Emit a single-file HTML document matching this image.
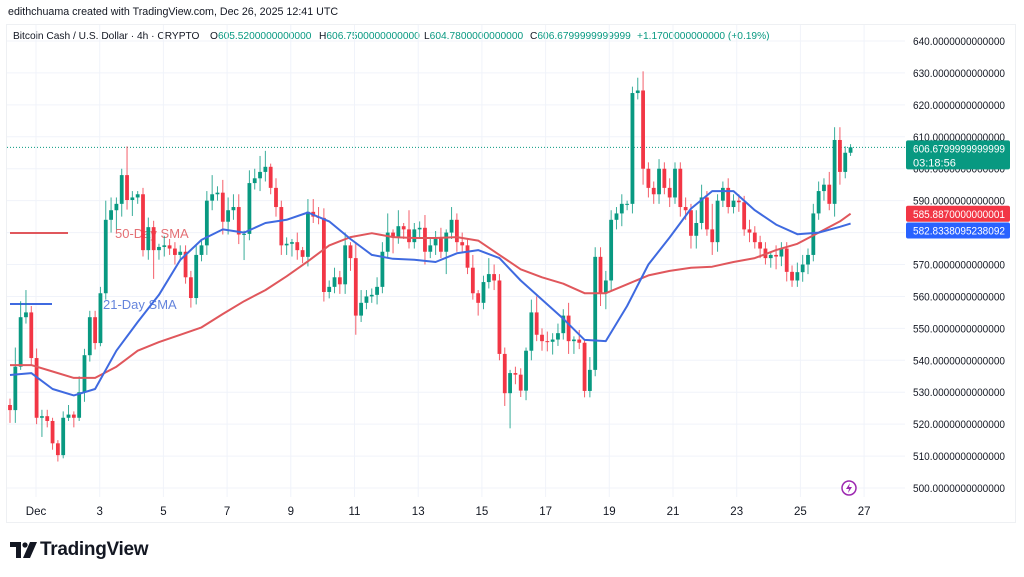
<!DOCTYPE html>
<html><head><meta charset="utf-8">
<style>
html,body{margin:0;padding:0;background:#fff;}
body{width:1024px;height:577px;overflow:hidden;position:relative;font-family:"Liberation Sans",sans-serif;}
.hdr{position:absolute;left:8px;top:6px;font-size:10.7px;color:#131722;}
.leg{position:absolute;top:31px;font-size:10.2px;color:#131722;white-space:nowrap;}
.leg .g{color:#089981;}
.frame{position:absolute;left:6px;top:24px;width:1010px;height:499px;border:1px solid #eef0f3;box-sizing:border-box;}
.logo{position:absolute;left:40px;top:539px;font-size:19px;font-weight:bold;color:#131722;letter-spacing:-0.3px;}
svg{position:absolute;left:0;top:0;}
</style></head><body>
<div class="hdr">edithchuama created with TradingView.com, Dec 26, 2025 12:41 UTC</div>
<div class="frame"></div>
<div class="leg" style="left:13px">Bitcoin Cash / U.S. Dollar · 4h · CRYPTO</div>
<div class="leg" style="left:210px">O<span class="g">605.5200000000000</span></div>
<div class="leg" style="left:319px">H<span class="g">606.7500000000000</span></div>
<div class="leg" style="left:424px">L<span class="g">604.7800000000000</span></div>
<div class="leg" style="left:530px">C<span class="g">606.6799999999999</span></div>
<div class="leg" style="left:637px"><span class="g">+1.1700000000000 (+0.19%)</span></div>
<svg id="chart" width="1024" height="577"></svg>
<svg width="28" height="18" style="left:10px;top:542px"><path d="M0 0H11V16H6V5H0Z" fill="#131722"/><circle cx="15" cy="3" r="2.6" fill="#131722"/><path d="M20 0H27L20 16H13Z" fill="#131722"/></svg>
<div class="logo">TradingView</div>
<script>
const firstOpen = 526;
const closes = [524.4,538,553.5,555,540.7,522,522.5,521,514,510.3,522,523,522,530,541.6,553.5,545.4,561,584,587,589,598,590.2,591,592,574.5,581.7,574.5,575.5,576,575,573,574,566,559.5,573,576,590,592,592.5,583.4,587,588,579.4,579.6,595.5,597,599,600.6,594,588,576,576.5,577,574.5,572.4,586.5,585,584.6,561.4,563,566,563.8,576,572,554,558,560,560.5,563,574,580,578.5,582,581,577,581,581.5,574,576,578.5,574,580,584,577,576,569,561,558,564.5,567,565,542,529.7,536,535.5,530.5,543,555,548,546,545.8,546.5,548.5,554,546,546.5,545.5,530.4,537,572.4,561,565,584,586,589,589,623.7,624.5,600,594,592,600,594,591,600,588,587,579,583,591,581,577,590,594,588,590,589.5,581,580,577,575,572,573,572.5,575,567.7,565,567.6,570,573,586,593,595,589,609,599,605,606.7];
const wickHi = [2,6,5,7,2,3,2,2,1,1,2,3,1,5,2,2,2,2,6,4,2,2,9,2,1,2,3,2,1,3,2,2,2,2,2,3,2,3,6,2,4,4,4,4,1,4,3,5,5,1,3,2,2,1,3,1,4,4,3,3,2,3,2,4,1,5,4,2,2,3,3,6,1,5,1,6,2,2,4,2,2,3,1,4,2,3,2,4,1,2,5,3,2,2,1,2,2,1,4,5,2,3,2,3,2,4,1,3,1,4,3,3,3,3,2,3,1,2,4,6,2,2,3,2,3,2,2,3,2,4,4,2,8,2,2,3,2,2,2,3,2,2,2,1,3,2,2,2,3,3,2,3,3,2,4,4,4,2,1];
const wickLo = [4,4,1,2,2,2,6,2,2,2,1,1,3,1,3,2,2,1,2,4,6,4,3,5,2,2,3,9,3,3,2,3,2,2,3,2,2,3,3,2,4,4,3,3,8,2,2,4,3,2,3,3,3,4,3,2,3,2,2,3,2,2,3,3,4,6,2,2,2,3,2,2,5,2,3,2,2,3,4,2,3,2,7,2,3,2,2,2,4,2,2,3,2,4,11,3,2,3,3,2,3,3,4,2,2,4,4,2,2,2,2,4,5,3,3,4,2,3,2,5,3,3,3,2,3,2,3,3,4,4,2,2,4,3,2,2,2,3,2,3,2,3,2,3,4,3,3,2,2,3,3,2,2,3,2,4,4,2,1];
const smaIdx = [0,4,8,12,16,20,24,28,32,36,40,44,48,52,56,60,64,68,72,76,80,84,88,92,96,100,104,108,112,116,120,124,128,132,136,140,144,148,152,156,158];
const sma21 = [535.4,536,531,529,531,543,552,560.5,571.4,577.7,581,580,583,584,586.3,583.5,578,573,571.8,571.5,570.8,573.5,574.5,572,565,559,553,546.4,546,557,570,578.5,587.5,593,593,587,582.5,579.5,580,581.8,582.8];
const sma50 = [538.5,538.5,536.5,534.5,534.5,538,543,545.7,548,550.3,554.5,558.5,562,566.3,571,576,578.6,579.8,578.6,578.3,578.3,578.6,577.5,573,568.5,566,564,561,561,563.8,566.6,568,569,569.3,570.8,572,574.5,576.5,580,583.5,585.9];
const priceTicks = [640,630,620,610,600,590,580,570,560,550,540,530,520,510,500];
const dayTicks = [1,3,5,7,9,11,13,15,17,19,21,23,25,27];
const dayLabels = ["Dec","3","5","7","9","11","13","15","17","19","21","23","25","27"];
const lastPrice = 606.6799999999999;

const NS="http://www.w3.org/2000/svg";
const svg=document.getElementById('chart');
function Y(p){return 41+(640-p)*3.193;}
function XI(i){return 10+i*5.32;}
function XD(d){return 36+(d-1)*31.85;}
function mk(tag,attrs,parent){const e=document.createElementNS(NS,tag);for(const k in attrs)e.setAttribute(k,attrs[k]);(parent||svg).appendChild(e);return e;}
const grid=mk('g',{});


priceTicks.forEach(p=>{
 const l=mk('line',{x1:7,x2:905,y1:Y(p),y2:Y(p),stroke:'#f0f3fa','stroke-width':1},grid);
 
 
 const t=mk('text',{x:913,y:Y(p)+4,'font-size':'11','fill':'#131722','font-family':'Liberation Sans, sans-serif',textLength:92,lengthAdjust:'spacingAndGlyphs'});
 t.textContent=p.toFixed(13);
 
 
});
dayTicks.forEach((d,k)=>{
 const x=XD(d);
 const l=mk('line',{x1:x,x2:x,y1:25,y2:497,stroke:'#f0f3fa','stroke-width':1},grid);
 
 
 const t=mk('text',{x:x,y:515,'font-size':'11.5','fill':'#131722','text-anchor':'middle','font-family':'Liberation Sans, sans-serif'});
 t.textContent=dayLabels[k];
 
 
});
const lab50=mk('text',{x:115,y:238,'font-size':'13','fill':'#e0575c','opacity':'0.85','font-family':'Liberation Sans, sans-serif'});
lab50.textContent='50-Day SMA';


const lab21=mk('text',{x:103,y:309,'font-size':'13','fill':'#4a6fd6','opacity':'0.85','font-family':'Liberation Sans, sans-serif'});
lab21.textContent='21-Day SMA';


const k50=mk('line',{x1:10,x2:68,y1:233,y2:233,stroke:'#e0575c','stroke-width':2});


const k21=mk('line',{x1:10,x2:52,y1:304,y2:304,stroke:'#3f6ae0','stroke-width':2});


const pl=mk('line',{x1:7,x2:905,y1:Y(lastPrice),y2:Y(lastPrice),stroke:'#089981','stroke-width':1,'stroke-dasharray':'1,2'});


const cg=mk('g',{});


let prev=firstOpen;
closes.forEach((c,i)=>{
 const o=prev; prev=c;
 const hi=Math.max(o,c)+wickHi[i], lo=Math.min(o,c)-wickLo[i];
 const col=c>=o?'#089981':'#f23645';
 const x=XI(i);
 const g=mk('g',{},cg);
 
 
 mk('line',{x1:x,x2:x,y1:Y(hi),y2:Y(lo),stroke:col,'stroke-width':1,opacity:0.8},g);
 const top=Y(Math.max(o,c)),bot=Y(Math.min(o,c));
 mk('rect',{x:x-1.9,y:top,width:3.8,height:Math.max(1,bot-top),fill:col},g);
});
function line(vals,color,name){
 const d=vals.map((v,k)=>(k?'L':'M')+XI(smaIdx[k]).toFixed(1)+','+Y(v).toFixed(1)).join(' ');
 const p=mk('path',{d:d,fill:'none',stroke:color,'stroke-width':2,'stroke-linejoin':'round'});
 
 
}
line(sma50,'#e0575c','sma50-line');
line(sma21,'#3f6ae0','sma21-line');
function box(y,h,col,t1,t2,name){
 const g=mk('g',{});
 
 
 mk('rect',{x:906,y:y,width:104,height:h,fill:col,rx:2},g);
 const a=mk('text',{x:913,y:y+12,'font-size':'11',fill:'#fff','font-family':'Liberation Sans, sans-serif',textLength:92,lengthAdjust:'spacingAndGlyphs'},g);a.textContent=t1;
 if(t2){const b=mk('text',{x:913,y:y+26,'font-size':'11',fill:'#fff','font-family':'Liberation Sans, sans-serif'},g);b.textContent=t2;}
}
box(Y(lastPrice)-7,29,'#089981','606.6799999999999','03:18:56','last-price-tag');
box(Y(585.887)-8,16,'#f23645','585.8870000000001',null,'sma50-price-tag');
box(Y(582.8338)-1,16,'#2962ff','582.8338095238092',null,'sma21-price-tag');
const li=mk('g',{});


mk('circle',{cx:849,cy:488,r:7,fill:'#fff',stroke:'#9c27b0','stroke-width':1.5},li);
mk('path',{d:'M850,483 L846,489 L849,489 L848,493 L852,487 L849,487 Z',fill:'#9c27b0'},li);
</script>
</body></html>
